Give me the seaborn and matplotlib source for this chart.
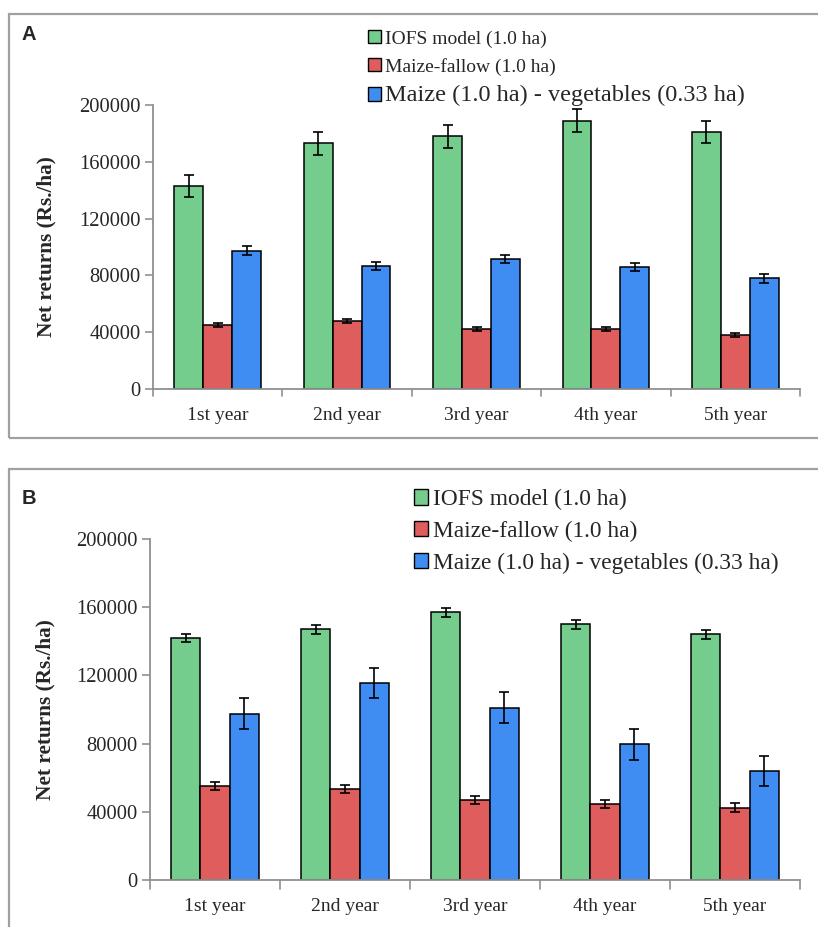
import matplotlib
matplotlib.use("Agg")
import matplotlib.pyplot as plt
import matplotlib.transforms as mtransforms
import seaborn as sns
import pandas as pd
import numpy as np
from matplotlib.patches import Rectangle, Patch

sns.set_style("white")
plt.rcParams['font.family'] = ['Liberation Serif', 'DejaVu Serif']

years = ["1st year", "2nd year", "3rd year", "4th year", "5th year"]
systems = ["IOFS model (1.0 ha)", "Maize-fallow (1.0 ha)", "Maize (1.0 ha) - vegetables (0.33 ha)"]
colors = ["#74CD8C", "#DF5D5D", "#3F8CF2"]

# Panel A
a_iofs = [143000, 173000, 178000, 189000, 181000]
a_iofs_err = [8000, 8000, 8000, 8000, 8000]
a_fallow = [45000, 48000, 42500, 42500, 38000]
a_fallow_err = [1500, 1500, 1500, 1500, 1500]
a_veg = [97500, 86500, 91500, 86000, 78000]
a_veg_err = [3000, 3000, 3000, 3000, 3000]

# Panel B
b_iofs = [142000, 147000, 157000, 150000, 144000]
b_iofs_err = [2500, 2500, 2500, 2500, 2500]
b_fallow = [55000, 53500, 47000, 44500, 42500]
b_fallow_err = [2500, 2500, 2500, 2500, 2500]
b_veg = [97500, 115500, 101000, 79500, 64000]
b_veg_err = [9000, 9000, 9000, 9000, 9000]

yticks = [0, 40000, 80000, 120000, 160000, 200000]

W, H = 818, 927
fig = plt.figure(figsize=(W / 100, H / 100), dpi=100)

def fx(px):
    return px / W

def fy(py):
    return 1 - py / H

# panel boxes
for top, bot in [(14, 438), (469, 935)]:
    fig.patches.append(Rectangle((fx(9), fy(bot)), fx(830) - fx(9), fy(top) - fy(bot),
                                 transform=fig.transFigure, fill=False,
                                 edgecolor="#A0A0A0", linewidth=1.6, zorder=0))

def panel(rect, vals, errs, letter, letter_pos, legend_anchor, legend_fs, legend_sizes,
          ytick_fs, xtick_fs, ylabel_x):
    ax = fig.add_axes(rect)
    df = pd.DataFrame({
        "year": years * 3,
        "system": sum([[s] * len(years) for s in systems], []),
        "value": vals[0] + vals[1] + vals[2],
    })
    sns.barplot(data=df, x="year", y="value", hue="system", hue_order=systems,
                palette=colors, width=0.67, edgecolor="black", linewidth=1.1,
                errorbar=None, ax=ax, legend=False, saturation=1)
    for cont, err in zip(ax.containers, errs):
        xs = [p.get_x() + p.get_width() / 2 for p in cont.patches]
        hs = [p.get_height() for p in cont.patches]
        ax.errorbar(xs, hs, yerr=err, fmt="none", ecolor="black",
                    elinewidth=1.2, capsize=3.5, capthick=1.2, zorder=5)
    ax.set_ylim(0, 200000)
    ax.set_xlim(-0.5, 4.5)
    ax.set_yticks(yticks)
    ax.set_yticklabels([str(t) for t in yticks], fontsize=ytick_fs)
    ax.set_xticks(range(len(years)))
    ax.set_xticklabels(years, fontsize=xtick_fs)
    ax.tick_params(axis="x", length=0, pad=13)
    ax.tick_params(axis="y", length=6, width=1.2, color="#909090", pad=3, direction="out", left=True)
    # category separator ticks
    for b in np.arange(-0.5, 5.0, 1.0):
        ax.plot([b, b], [0, -0.025], transform=ax.get_xaxis_transform(),
                color="#909090", lw=1.2, clip_on=False)
    for s in ["top", "right"]:
        ax.spines[s].set_visible(False)
    for s in ["left", "bottom"]:
        ax.spines[s].set_color("#909090")
        ax.spines[s].set_linewidth(1.3)
    ax.set_xlabel("")
    ax.set_ylabel("Net returns (Rs./ha)", fontsize=15.3, fontweight="bold")
    blend = mtransforms.blended_transform_factory(fig.transFigure, ax.transAxes)
    ax.yaxis.set_label_coords(fx(ylabel_x), 0.5, transform=blend)
    handles = [Patch(facecolor=c, edgecolor="black", linewidth=1.0) for c in colors]
    leg = ax.legend(handles, systems, loc="upper left", bbox_to_anchor=legend_anchor,
                    bbox_transform=fig.transFigure, frameon=False, fontsize=legend_fs,
                    handlelength=0.62, handleheight=0.62, handletextpad=0.2,
                    labelspacing=0.45, borderaxespad=0, borderpad=0)
    for t, fs in zip(leg.get_texts(), legend_sizes):
        t.set_fontsize(fs)
    fig.text(fx(letter_pos[0]), fy(letter_pos[1]), letter, fontsize=14.5, fontweight="bold",
             family=["Liberation Sans", "DejaVu Sans"], va="center", ha="left")
    return ax

panel([fx(153), fy(389), fx(800) - fx(153), fy(105) - fy(389)],
      [a_iofs, a_fallow, a_veg], [a_iofs_err, a_fallow_err, a_veg_err],
      "A", (22, 34), (fx(368), fy(30)), 15, [14, 14, 17.5], 14.8, 14, 56)

panel([fx(150), fy(880), fx(800) - fx(150), fy(539) - fy(880)],
      [b_iofs, b_fallow, b_veg], [b_iofs_err, b_fallow_err, b_veg_err],
      "B", (22, 499), (fx(414), fy(489)), 16.8, [16.8, 16.8, 16.8], 14.8, 14, 55)

fig.savefig("out.png", dpi=100)
